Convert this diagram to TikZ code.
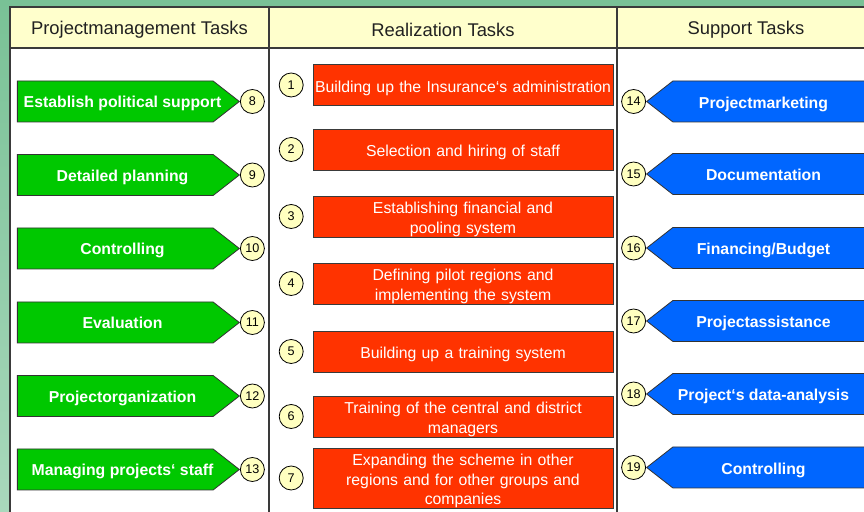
\documentclass[tikz,border=0pt]{standalone}
\usepackage{fontspec}
\setmainfont{Liberation Sans}
\usepackage{tikz}
\usetikzlibrary{shapes.symbols}
\usetikzlibrary{positioning}
\usepackage{xcolor}
\definecolor{bgtop}{HTML}{79C196}
\definecolor{bgbot}{HTML}{A9D8BC}
\definecolor{headyellow}{HTML}{FFFFCC}
\definecolor{numyellow}{HTML}{FFFFC0}
\definecolor{pmgreen}{HTML}{00C800}
\definecolor{realred}{HTML}{FF3300}
\definecolor{supblue}{HTML}{0066FF}
\definecolor{gridgray}{HTML}{3A3A3A}

\begin{document}
\begin{tikzpicture}[x=.5pt,y=-.5pt,
  num/.style={circle,draw=black,fill=numyellow,inner sep=0pt,minimum size=12pt,font=\fontsize{6.3}{7}\selectfont},
  pmtask/.style={signal,signal to=east,signal pointer angle=76,draw=black!80,fill=pmgreen,
    minimum width=111pt,minimum height=20.5pt,inner sep=0pt,anchor=east},
  suptask/.style={signal,signal to=west,signal pointer angle=76,draw=black!80,fill=supblue,
    minimum width=117pt,minimum height=20.5pt,inner sep=0pt,anchor=west},
  tasktext/.style={text=white,font=\bfseries\fontsize{7.9}{9}\selectfont,inner sep=0pt,anchor=base},
  realtask/.style={rectangle,draw=gridgray,fill=realred,text=white,text width=148pt,align=center,
    font=\fontsize{7.9}{9.75}\selectfont,minimum height=20.5pt,inner xsep=1pt,inner ysep=0pt,
    execute at begin node={\rule{0pt}{8.8pt}}},
  head/.style={font=\fontsize{9.2}{11}\selectfont,text=black!87}]
\useasboundingbox (0,0) rectangle (864,512);
\shade[top color=bgtop,bottom color=bgbot] (0,0) rectangle (864,512);
% table
\fill[headyellow] (10,7) rectangle (880,48);
\fill[white] (10,48) rectangle (880,520);
\draw[gridgray,line width=.75pt] (10,520)--(10,7)--(880,7);
\draw[gridgray,line width=.75pt] (10,48)--(880,48);
\draw[gridgray,line width=.75pt] (269,7)--(269,520);
\draw[gridgray,line width=.75pt] (617,7)--(617,520);
\node[head] (hpm) at (139.5,30) {Projectmanagement Tasks};
\node[head] (hreal) at (443,30) {Realization Tasks};
\node[head] (hsup) at (746,30) {Support Tasks};
% projectmanagement
\foreach \n/\y/\t in {8/101.5/Establish political support, 9/175/Detailed planning,
    10/248.5/Controlling, 11/322.5/Evaluation, 12/396/Projectorganization,
    13/469.5/Managing projects‘ staff}{
  \node[pmtask] (pm\n) at (240,\y) {};
  \node[tasktext] (pmt\n) at ([xshift=-58.75pt,yshift=-3.1pt]pm\n.east) {\t};
  \node[num,anchor=west] (c\n) at (pm\n.east) {\n};
}
% realization
\node[realtask] (r1) at (463,85) {Building up the Insurance‘s administration};
\node[realtask] (r2) at (463,149.5) {Selection and hiring of staff};
\node[realtask] (r3) at (463,216.5) {Establishing financial and\\pooling system};
\node[realtask] (r4) at (463,283.5) {Defining pilot regions and\\implementing the system};
\node[realtask] (r5) at (463,351.5) {Building up a training system};
\node[realtask] (r6) at (463,416.5) {Training of the central and district\\managers};
\node[realtask,minimum height=29pt] (r7) at (463,478) {Expanding the scheme in other\\regions and for other groups and\\companies};
\foreach \n in {1,...,7}
  \node[num,left=4.5pt of r\n] (c\n) {\n};
% support
\foreach \n/\y/\t in {14/101.5/Projectmarketing, 15/174/Documentation,
    16/248/{Financing/Budget}, 17/321/Projectassistance, 18/394/Project‘s data-analysis,
    19/467.5/Controlling}{
  \node[suptask] (sup\n) at (646,\y) {};
  \node[tasktext] (supt\n) at ([xshift=58.75pt,yshift=-3.3pt]sup\n.west) {\t};
  \node[num,anchor=east] (c\n) at (sup\n.west) {\n};
}
\end{tikzpicture}
\end{document}
